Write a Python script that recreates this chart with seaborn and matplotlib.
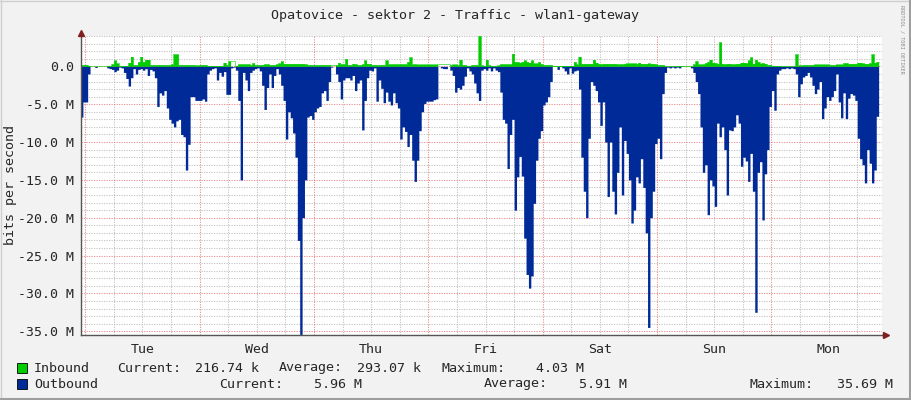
import numpy as np
import pandas as pd
import matplotlib
matplotlib.use("Agg")
import matplotlib.pyplot as plt
from matplotlib.patches import Rectangle
import seaborn as sns

# 30 minute samples in Mbit/s (outbound drawn below zero)
lead_in = [0.2, 0.2]
lead_out = [6.7, 4.7]

tue_in = [0.2, 0.1, 0, 0, 0, 0, 0, 0, 0, 0.1, 0.1, 0.3, 0.8, 0.4, 0.1, 0.1,
          0.1, 0.1, 0.5, 1.3, 0.2, 0.2, 0.6, 1.3, 0.6, 0.9, 0.9, 0.2, 0.2, 0.2, 0.2, 0.2,
          0.2, 0.2, 0.2, 0.2, 0.3, 1.6, 1.6, 0.2, 0.2, 0.2, 0.2, 0.2, 0.2, 0.2, 0.15, 0.15]
tue_out = [4.7, 1.0, 0, 0, 0.15, 0, 0, 0, 0, 0.2, 0.3, 0.4, 0.7, 0.5, 0.1, 0.2,
           0.8, 1.6, 2.6, 1.5, 0.3, 1.0, 0.4, 0.3, 0.5, 0.3, 1.2, 0.4, 0.6, 1.5, 5.3, 3.5,
           3.8, 3.2, 5.5, 7.0, 7.5, 8.0, 7.2, 7.0, 9.0, 9.3, 13.7, 10.3, 4.0, 4.0, 4.5, 4.5]

wed_in = [0.2, 0.2, 0.2, 0.1, 0.1, 0.1, 0.1, 0.1, 0.1, 0.1, 0.5, 0.2, 0.7, 0, 0, 0.1,
          0.3, 0.3, 0.3, 0.3, 0.3, 0.2, 0.45, 0.2, 0.2, 0.2, 0.2, 0.3, 0.3, 0.2, 0.2, 0.2,
          0.3, 0.4, 0.7, 0.35, 0.35, 0.35, 0.35, 0.35, 0.35, 0.35, 0.35, 0.35, 0.3, 0.2, 0.2, 0.2]
wed_out = [4.5, 4.3, 4.6, 1.0, 0.5, 0.3, 0.2, 1.8, 0.8, 1.3, 0.7, 3.7, 3.7, 0.2, 0.1, 0.5,
           4.5, 15.0, 0.8, 1.8, 3.2, 0.8, 0.5, 0.3, 0.2, 0.6, 2.5, 5.7, 2.8, 1.0, 2.8, 1.2,
           0.3, 1.0, 2.5, 4.5, 9.6, 6.0, 6.8, 8.8, 12.0, 23.0, 35.6, 20.0, 15.0, 6.7, 6.5, 7.0]

thu_in = [0.2, 0.2, 0.2, 0.2, 0.2, 0.2, 0.2, 0, 0, 0.2, 0.5, 0.3, 0.3, 1.0, 0.2, 0.2,
          0.35, 0.3, 0.2, 0.2, 0.3, 0.8, 0.35, 0.35, 0.2, 0.2, 0.2, 0.2, 0.2, 0.2, 0.8, 0.3,
          0.3, 0.3, 0.3, 0.3, 0.3, 0.3, 0.3, 0.6, 1.2, 0.3, 0.3, 0.25, 0.25, 0.25, 0.25, 0.25]
thu_out = [6.0, 5.5, 5.3, 3.5, 3.2, 4.5, 2.0, 0.1, 0, 1.0, 2.0, 4.3, 1.8, 1.5, 1.5, 1.8,
           1.2, 3.2, 2.2, 1.8, 8.4, 4.5, 1.5, 0.5, 0.6, 0.2, 4.6, 1.8, 2.9, 4.8, 3.4, 4.6,
           5.1, 3.5, 4.8, 5.5, 9.6, 8.0, 8.6, 10.6, 9.0, 12.4, 15.2, 12.4, 8.5, 6.0, 4.9, 4.6]

fri_in = [0.25, 0.25, 0.25, 0.25, 0, 0, 0, 0, 0, 0.2, 0.25, 0.25, 0.2, 0.9, 0.2, 0.2,
          0.1, 0.1, 0.2, 0.2, 0.2, 4.03, 0.15, 0.1, 0.9, 0.2, 0.1, 0.1, 0.1, 0.15, 0.3, 0.3,
          0.3, 0.3, 0.3, 1.7, 0.6, 0.6, 0.5, 0.6, 0.8, 0.6, 0.5, 0.8, 0.4, 0.4, 0.6, 0.3]
fri_out = [4.6, 4.6, 4.4, 4.3, 0, 0.2, 0.3, 0.3, 0, 0.5, 1.2, 3.4, 2.8, 3.0, 2.5, 1.3,
           0.2, 0.6, 1.0, 2.2, 3.5, 4.5, 0.5, 0.3, 0.5, 0.2, 0.6, 0.2, 0.5, 0.7, 3.4, 7.0,
           7.5, 13.5, 9.0, 7.0, 19.0, 14.6, 11.9, 14.5, 22.7, 27.5, 29.3, 27.7, 18.1, 12.4, 9.5, 8.5]

sat_in = [0.2, 0.2, 0.2, 0.2, 0.1, 0.1, 0.05, 0.1, 0.1, 0.1, 0.1, 0.1, 0.1, 0.6, 0.3, 1.3,
          0.35, 0.35, 0.35, 0.35, 0.35, 0.9, 0.5, 0.35, 0.3, 0.35, 0.35, 0.35, 0.35, 0.35, 0.35, 0.3,
          0.3, 0.3, 0.35, 0.4, 0.4, 0.4, 0.4, 0.35, 0.5, 0.35, 0.35, 0.35, 0.4, 0.35, 0.35, 0.3]
sat_out = [5.1, 4.7, 4.0, 2.0, 0, 0, 0.4, 0, 0.2, 0.6, 1.0, 0.2, 0.9, 0.6, 0.5, 3.0,
           12.0, 16.5, 20.0, 9.5, 2.0, 2.5, 3.2, 4.7, 7.8, 4.7, 10.0, 17.2, 10.0, 16.5, 19.5, 14.0,
           8.0, 17.0, 9.8, 11.5, 15.0, 20.7, 19.0, 14.6, 15.4, 12.2, 16.0, 22.0, 34.5, 20.0, 16.5, 10.2]

sun_in = [0.2, 0.2, 0.2, 0.05, 0.05, 0.05, 0.05, 0.05, 0.1, 0.1, 0.1, 0.05, 0.05, 0.05, 0.05, 0.3,
          0.7, 0.3, 0.25, 0.3, 0.45, 0.6, 0.9, 0.5, 0.45, 0.35, 3.2, 0.35, 0.3, 0.35, 0.35, 0.3,
          0.3, 0.35, 0.35, 0.5, 0.5, 0.45, 0.8, 1.2, 0.35, 0.9, 0.6, 0.4, 0.45, 0.35, 0.2, 0.2]
sun_out = [9.5, 12.2, 3.6, 0.8, 0.1, 0.2, 0.1, 0.2, 0.1, 0.2, 0, 0, 0, 0, 0.2, 0.8,
           2.0, 3.6, 8.0, 14.0, 13.0, 19.6, 15.0, 15.8, 18.5, 7.5, 9.3, 8.0, 11.0, 17.0, 8.4, 8.5,
           8.0, 6.4, 7.5, 13.2, 12.0, 12.5, 15.2, 11.5, 16.5, 32.5, 14.0, 12.6, 20.3, 14.2, 11.0, 5.3]

mon_in = [0.1, 0.1, 0.1, 0.1, 0.05, 0.05, 0.05, 0.05, 0.05, 0.05, 1.6, 0.15, 0.15, 0.2, 0.2, 0.2,
          0.2, 0.2, 0.25, 0.25, 0.25, 0.25, 0.25, 0.25, 0.2, 0.2, 0.2, 0.25, 0.25, 0.25, 0.45, 0.45,
          0.35, 0.35, 0.35, 0.35, 0.5, 0.5, 0.4, 0.35, 0.35, 0.45, 1.6, 0.5, 0.6]
mon_out = [3.2, 5.8, 1.0, 0.5, 0.3, 0.3, 0.2, 0.3, 0.2, 0.3, 1.0, 4.0, 2.3, 1.4, 1.2, 0.8,
           1.4, 2.5, 3.6, 3.0, 2.0, 6.9, 5.5, 4.0, 4.5, 4.0, 3.2, 1.0, 4.7, 6.8, 3.5, 6.9,
           4.2, 3.6, 3.8, 4.5, 9.5, 12.2, 13.0, 15.4, 11.0, 12.8, 15.4, 13.7, 6.6]

day_labels = ["Tue", "Wed", "Thu", "Fri", "Sat", "Sun", "Mon"]
y_labels = ["0.0", "-5.0 M", "-10.0 M", "-15.0 M", "-20.0 M", "-25.0 M", "-30.0 M", "-35.0 M"]

inbound = lead_in + tue_in + wed_in + thu_in + fri_in + sat_in + sun_in + mon_in
outbound = lead_out + tue_out + wed_out + thu_out + fri_out + sat_out + sun_out + mon_out

df = pd.DataFrame({"inbound": inbound, "outbound": outbound})
df["hour"] = -1.0 + 0.5 * np.arange(len(df))
# repeat last sample so the step area reaches the end of its bin
last = df.iloc[[-1]].copy()
last["hour"] += 0.5
df = pd.concat([df, last], ignore_index=True)
df["out_neg"] = -df["outbound"]
df["in_edge"] = df["inbound"].where(df["inbound"] > 0)

GREEN = "#00CC00"
BLUE = "#002A97"
MONO = "DejaVu Sans Mono"
W, H = 911, 400

sns.set_style("white")
plt.rcParams["font.family"] = [MONO]

fig = plt.figure(figsize=(W / 100, H / 100), dpi=100)
fig.patch.set_facecolor("#F2F2F2")


def fx(x):
    return x / W


def fy(y):
    return 1 - y / H


left, right, top, bottom = 81, 881.5, 35.5, 335
ax = fig.add_axes([fx(left), fy(bottom), (right - left) / W, (bottom - top) / H])
ax.set_facecolor("#FFFFFF")

ax.fill_between(df["hour"], df["inbound"], step="post", color=GREEN, lw=0, zorder=2)
ax.fill_between(df["hour"], df["out_neg"], step="post", color=BLUE, lw=0, zorder=2)
sns.lineplot(data=df, x="hour", y="in_edge", drawstyle="steps-post", color=GREEN,
             lw=0.4, ax=ax, zorder=3)

ax.set_xlim(-0.9, 167.1)
ax.set_ylim(-35.5, 4.08)

# grid: minor every 6h / 1M, major every day / 5M
grid_minor = dict(color="#8F8F8F", alpha=0.5, lw=0.75, ls=(0, (1.2, 1.2)), zorder=1)
grid_major = dict(color="#DE4F4F", alpha=0.6, lw=0.75, ls=(0, (1.2, 1.2)), zorder=1)
for h in np.arange(6, 168, 6):
    if h % 24:
        ax.axvline(h, **grid_minor)
for m in np.arange(4, -36, -1):
    if m % 5:
        ax.axhline(m, **grid_minor)
for h in np.arange(0, 168, 24):
    ax.axvline(h, **grid_major)
for m in np.arange(0, -36, -5):
    ax.axhline(m, **grid_major)

ax.set_xticks(np.arange(12, 168, 24), labels=day_labels)
ax.set_xticks(np.arange(0, 168, 6), minor=True)
ax.set_yticks(np.arange(0, -36, -5), labels=y_labels)
ax.set_yticks(np.arange(4, -36, -1), minor=True)
ax.tick_params(axis="x", which="major", length=0, pad=6, labelsize=9.5)
ax.tick_params(axis="y", which="major", length=2, pad=3, labelsize=9.5, color="#555555")
ax.tick_params(which="minor", length=2, color="#555555")
ax.tick_params(axis="x", which="minor", direction="out")
ax.set_xlabel("")
ax.set_ylabel("")

for s in ["top", "right"]:
    ax.spines[s].set_visible(False)
for s in ["left", "bottom"]:
    ax.spines[s].set_color("#555555")
    ax.spines[s].set_linewidth(1.0)
    ax.spines[s].set_zorder(5)

# axis arrows
ax.plot([1.0, 1.006], [0, 0], transform=ax.transAxes, color="#555555", lw=1, clip_on=False)
ax.plot([1.006], [0], marker=">", ms=4.5, color="#801F1F", transform=ax.transAxes,
        clip_on=False, zorder=6)
ax.plot([0], [1.01], marker="^", ms=4.5, color="#801F1F", transform=ax.transAxes,
        clip_on=False, zorder=6)

fig.text(fx(455), fy(15), "Opatovice - sektor 2 - Traffic - wlan1-gateway",
         ha="center", va="center", fontsize=9.6)
fig.text(fx(11), fy(185), "bits per second", rotation=90, ha="center", va="center",
         fontsize=9.6)
fig.text(fx(902), fy(5), "RRDTOOL / TOBI OETIKER", rotation=270, ha="center", va="top",
         fontsize=3.8, color="#8C8C8C")

# legend
fig.patches.append(Rectangle((fx(17), fy(373)), 10 / W, 10 / H, transform=fig.transFigure,
                             facecolor=GREEN, edgecolor="#000000", lw=0.6))
fig.patches.append(Rectangle((fx(17), fy(389)), 10 / W, 10 / H, transform=fig.transFigure,
                             facecolor=BLUE, edgecolor="#000000", lw=0.6))
legend_rows = [
    (368, [("Inbound", 34, "left"), ("Current:", 117, "left"), ("216.74 k", 259, "right"),
           ("Average:", 279, "left"), ("293.07 k", 421, "right"), ("Maximum:", 441, "left"),
           ("4.03 M", 584, "right")]),
    (384, [("Outbound", 34, "left"), ("Current:", 219, "left"), ("5.96 M", 362, "right"),
           ("Average:", 484, "left"), ("5.91 M", 627, "right"), ("Maximum:", 749, "left"),
           ("35.69 M", 893, "right")]),
]
for y, items in legend_rows:
    for txt, x, ha in items:
        fig.text(fx(x), fy(y), txt, ha=ha, va="center", fontsize=9.6)

# 3d border
fig.add_artist(plt.Line2D([fx(0.5), fx(0.5)], [0, 1], color="#CFCFCF", lw=1))
fig.add_artist(plt.Line2D([0, 1], [fy(0.5), fy(0.5)], color="#CFCFCF", lw=1))
fig.add_artist(plt.Line2D([fx(909.5), fx(909.5)], [0, 1], color="#9E9E9E", lw=2.2))
fig.add_artist(plt.Line2D([0, 1], [fy(398.5), fy(398.5)], color="#9E9E9E", lw=2.2))

fig.savefig("out.png", dpi=100, facecolor=fig.get_facecolor())
